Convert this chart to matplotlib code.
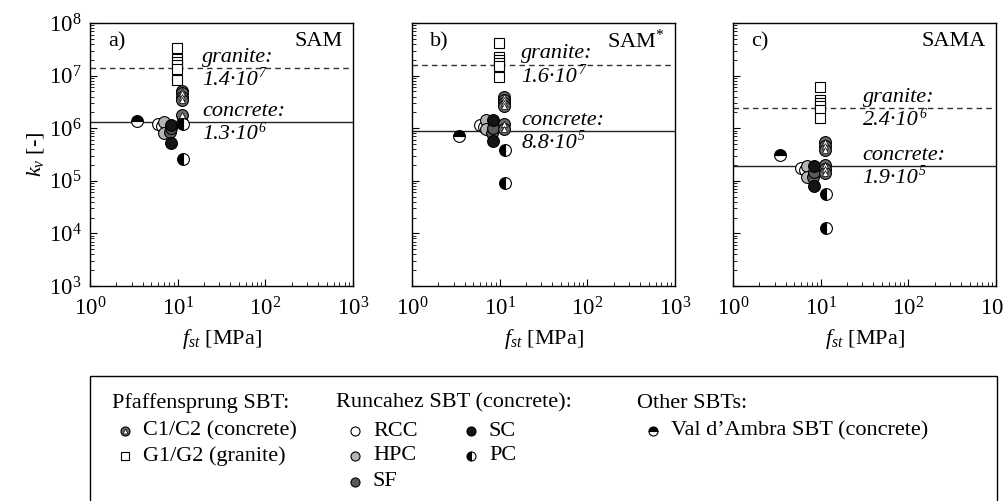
import numpy as np
import matplotlib
matplotlib.use("Agg")
import matplotlib.pyplot as plt
from matplotlib.patches import Rectangle
from matplotlib.ticker import LogLocator, LogFormatterMathtext, NullFormatter

plt.rcParams['font.family'] = 'serif'
plt.rcParams['font.serif'] = ['Liberation Serif', 'DejaVu Serif']
plt.rcParams['mathtext.fontset'] = 'custom'
plt.rcParams['mathtext.rm'] = 'Liberation Serif'
plt.rcParams['mathtext.it'] = 'Liberation Serif:italic'
plt.rcParams['mathtext.default'] = 'it'

FS = 16

# ── data ─────────────────────────────────────────────────────────────────────
panels      = ["a)", "b)", "c)"]
models      = ["SAM", r"SAM$^{\mathrm{*}}$", "SAMA"]
granite_avg = [1.4e7, 1.6e7, 2.4e6]
conc_avg    = [1.3e6, 8.8e5, 1.9e5]
granite_man = ["1.4\u00b710", "1.6\u00b710", "2.4\u00b710"]
granite_exp = ["7", "7", "6"]
conc_man    = ["1.3\u00b710", "8.8\u00b710", "1.9\u00b710"]
conc_exp    = ["6", "5", "5"]

# f_st [MPa] per test group (same in all panels)
fst_vda = [3.4]
fst_g   = [9.9, 9.9, 9.9, 9.9, 9.9, 9.9]
fst_c   = [11.3, 11.3, 11.3, 11.3, 11.3, 11.3]
fst_rcc = [5.9, 6.6]
fst_hpc = [7.0, 6.9]
fst_sf  = [8.2, 8.4]
fst_sc  = [8.5, 8.3]
fst_pc  = [11.6, 11.6]

# k_v [-] per panel (SAM, SAM*, SAMA)
kv_vda = [[1.35e6], [7.2e5], [3.1e5]]
kv_g   = [[3.4e7, 2.1e7, 1.85e7, 1.6e7, 1.35e7, 8.1e6],
          [4.2e7, 2.3e7, 2.0e7, 1.7e7, 1.5e7, 9.6e6],
          [6.0e6, 3.5e6, 3.0e6, 2.6e6, 2.2e6, 1.55e6]]
kv_c   = [[5.2e6, 4.6e6, 4.0e6, 3.4e6, 1.8e6, 1.25e6],
          [3.9e6, 3.4e6, 3.0e6, 2.6e6, 1.2e6, 9.5e5],
          [5.4e5, 4.6e5, 3.9e5, 2.0e5, 1.7e5, 1.4e5]]
kv_rcc = [[1.2e6, 1.1e6], [1.15e6, 1.05e6], [1.75e5, 1.6e5]]
kv_hpc = [[1.3e6, 8.0e5], [1.45e6, 9.5e5], [1.95e5, 1.2e5]]
kv_sf  = [[8.5e5, 1.0e6], [8.1e5, 1.0e6], [1.2e5, 1.5e5]]
kv_sc  = [[1.15e6, 5.2e5], [1.45e6, 5.6e5], [1.95e5, 8.0e4]]
kv_pc  = [[1.2e6, 2.6e5], [3.9e5, 9.1e4], [5.5e4, 1.26e4]]

# x position (MPa) of the annotation texts in each panel
ann_x = [19.0, 17.7, 30.0]

# ── styles ───────────────────────────────────────────────────────────────────
MS = 8.5
sty_rcc = dict(marker='o', ls='none', mfc='white', mec='black', mew=0.8)
sty_hpc = dict(marker='o', ls='none', mfc='#b4b4b4', mec='black', mew=0.8)
sty_sf  = dict(marker='o', ls='none', mfc='#5a5a5a', mec='black', mew=0.8)
sty_sc  = dict(marker='o', ls='none', mfc='#141414', mec='black', mew=0.8)
sty_pc  = dict(marker='o', ls='none', mfc='black', markerfacecoloralt='white',
               fillstyle='left', mec='black', mew=0.8)
sty_vda = dict(marker='o', ls='none', mfc='black', markerfacecoloralt='white',
               fillstyle='top', mec='black', mew=0.8)
sty_c   = dict(marker='o', ls='none', mfc='#6a6a6a', mec='black', mew=0.8)
sty_ct  = dict(marker='^', ls='none', mfc='white', mec='black', mew=0.5)
sty_g   = dict(marker='s', ls='none', mfc='white', mec='black', mew=0.8)


def value_label(ax, x, y, man, exp):
    t = ax.annotate(man, (x, y), xytext=(0, -2), textcoords='offset points',
                    ha='left', va='top', fontsize=FS, style='italic')
    ax.annotate(exp, xy=(1, 1), xycoords=t, xytext=(0.5, 2.5), textcoords='offset points',
                ha='left', va='top', fontsize=FS * 0.62, style='italic')


fig = plt.figure(figsize=(10.04, 5.01), dpi=100)
lefts = [90, 412, 733]
for i in range(3):
    ax = fig.add_axes([lefts[i] / 1004, 1 - 286 / 501, 263 / 1004, 263 / 501])
    ax.set_xscale('log'); ax.set_yscale('log')
    ax.set_xlim(1, 1e3); ax.set_ylim(1e3, 1e8)

    ax.axhline(granite_avg[i], color='#333333', lw=1.0, ls=(0, (4, 3)), zorder=1)
    ax.axhline(conc_avg[i], color='#222222', lw=1.0, zorder=1)

    ax.plot(fst_rcc, kv_rcc[i], ms=MS, **sty_rcc, zorder=3)
    ax.plot(fst_hpc, kv_hpc[i], ms=MS, **sty_hpc, zorder=3)
    ax.plot(fst_sf, kv_sf[i], ms=MS, **sty_sf, zorder=4)
    ax.plot(fst_sc, kv_sc[i], ms=MS, **sty_sc, zorder=4)
    ax.plot(fst_c, kv_c[i], ms=MS, **sty_c, zorder=5)
    ax.plot(fst_c, kv_c[i], ms=MS * 0.55, **sty_ct, zorder=5)
    ax.plot(fst_g, kv_g[i], ms=7, **sty_g, zorder=5)
    ax.plot(fst_pc, kv_pc[i], ms=MS, **sty_pc, zorder=5)
    ax.plot(fst_vda, kv_vda[i], ms=MS, **sty_vda, zorder=5)

    ax.annotate("granite:", (ann_x[i], granite_avg[i]), xytext=(0, 1),
                textcoords='offset points', ha='left', va='bottom',
                fontsize=FS, style='italic')
    value_label(ax, ann_x[i], granite_avg[i], granite_man[i], granite_exp[i])
    ax.annotate("concrete:", (ann_x[i], conc_avg[i]), xytext=(0, 1),
                textcoords='offset points', ha='left', va='bottom',
                fontsize=FS, style='italic')
    value_label(ax, ann_x[i], conc_avg[i], conc_man[i], conc_exp[i])

    ax.text(0.07, 0.93, panels[i], transform=ax.transAxes, ha='left', va='center', fontsize=FS)
    ax.text(0.96, 0.93, models[i], transform=ax.transAxes, ha='right', va='center', fontsize=FS)

    ax.xaxis.set_major_locator(LogLocator(base=10, numticks=10))
    ax.xaxis.set_minor_locator(LogLocator(base=10, subs=np.arange(2, 10), numticks=10))
    ax.yaxis.set_major_locator(LogLocator(base=10, numticks=10))
    ax.yaxis.set_minor_locator(LogLocator(base=10, subs=np.arange(2, 10), numticks=10))
    ax.xaxis.set_major_formatter(LogFormatterMathtext())
    ax.yaxis.set_major_formatter(LogFormatterMathtext())
    ax.xaxis.set_minor_formatter(NullFormatter())
    ax.yaxis.set_minor_formatter(NullFormatter())
    ax.tick_params(which='both', direction='in', top=False, right=False, labelsize=16.5)
    ax.tick_params(which='major', length=5, width=0.8)
    ax.tick_params(which='minor', length=3, width=0.6)
    ax.tick_params(axis='x', pad=8)
    ax.tick_params(axis='y', pad=6)
    if i > 0:
        ax.tick_params(axis='y', labelleft=False)
    else:
        ax.set_ylabel(r"$k_v$ [-]", fontsize=FS, labelpad=2)
    ax.set_xlabel(r"$f_{st}$ [MPa]", fontsize=FS, labelpad=5)
    for s in ax.spines.values():
        s.set_linewidth(1.0)

# ── legend box ───────────────────────────────────────────────────────────────
lg = fig.add_axes([0, 0, 1, 1], zorder=-1)
lg.set_xlim(0, 1004); lg.set_ylim(501, 0); lg.axis('off')
lg.add_patch(Rectangle((90, 376), 907, 140, fill=False, ec='black', lw=1.0))

LMS = 6.5
lg.text(112, 403, "Pfaffensprung SBT:", fontsize=FS, va='center')
lg.text(336, 403, "Runcahez SBT (concrete):", fontsize=FS, va='center')
lg.text(637, 403, "Other SBTs:", fontsize=FS, va='center')

entries = [
    (125, 431, "C1/C2 (concrete)", [sty_c, sty_ct]),
    (125, 456, "G1/G2 (granite)", [sty_g]),
    (355, 431, "RCC", [sty_rcc]),
    (355, 456, "HPC", [sty_hpc]),
    (355, 482, "SF", [sty_sf]),
    (471, 431, "SC", [sty_sc]),
    (471, 456, "PC", [sty_pc]),
    (653, 431, "Val d\u2019Ambra SBT (concrete)", [sty_vda]),
]
for x, y, label, styles in entries:
    for st in styles:
        size = LMS
        if st['marker'] == '^':
            size = LMS * 0.55
        elif st['marker'] == 's':
            size = LMS * 0.85
        lg.plot([x], [y], ms=size, **st)
    lg.text(x + 18, y, label, fontsize=FS, va='center')

fig.savefig("out.png", dpi=100, facecolor='white')
